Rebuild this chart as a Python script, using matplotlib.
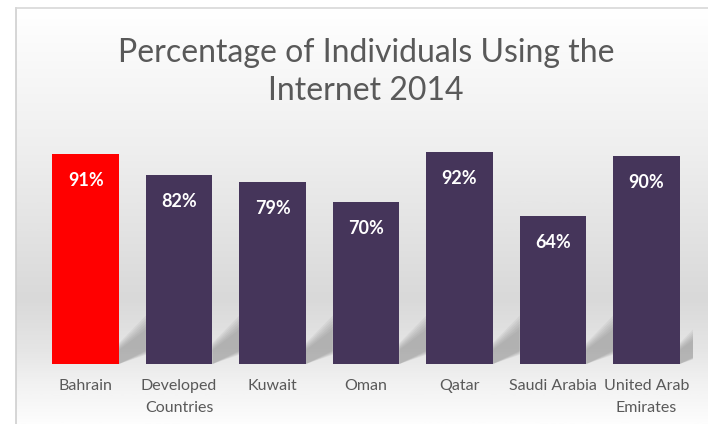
import numpy as np
import matplotlib.pyplot as plt
from matplotlib.colors import LinearSegmentedColormap

# data
countries = ['Bahrain', 'Developed\nCountries', 'Kuwait', 'Oman', 'Qatar',
             'Saudi Arabia', 'United Arab\nEmirates']
values = [91, 82, 79, 70, 92, 64, 90]
colors = ['#ff0000', '#45355a', '#45355a', '#45355a', '#45355a', '#45355a', '#45355a']

plt.rcParams['font.family'] = ['Lato', 'DejaVu Sans']

fig = plt.figure(figsize=(7.08, 4.24), dpi=100)

# background panel with vertical gradient
bg = fig.add_axes([0, 0, 1, 1], zorder=0)
bg.set_xlim(0, 708)
bg.set_ylim(424, 0)
bg.axis('off')
grad_cmap = LinearSegmentedColormap.from_list(
    'bgfade',
    [(0.0, '#ffffff'), (0.35, '#eeeeee'), (0.70, '#d9d9d9'),
     (0.83, '#e6e6e6'), (0.90, '#f1f1f1'), (1.0, '#fdfdfd')])
grad = np.linspace(0, 1, 300).reshape(-1, 1)
bg.imshow(grad, cmap=grad_cmap, aspect='auto', extent=[16, 708, 424, 8])
bg.plot([16, 16], [8, 424], color='#cfcfcf', lw=1.2)
bg.plot([16, 708], [8, 8], color='#d8d8d8', lw=1.2)

ax = fig.add_axes([0.055, 0.1415, 0.924, 0.5445], zorder=1)
ax.patch.set_alpha(0)
x = np.arange(len(countries))
width = 0.71

# soft shadows cast to the right of each bar
for xi in x:
    xr = xi + width / 2
    for k in range(6):
        s = k * 1.2
        ax.fill([xr, xr + 0.29, xr + 0.29, xr],
                [0, 4 + s * 0.3, 21 - s, 9 - s * 0.5],
                color='#808080', alpha=0.1, lw=0, zorder=1)

bars = ax.bar(x, values, width=width, color=colors, zorder=2)
for b, v in zip(bars, values):
    ax.text(b.get_x() + b.get_width() / 2, v - 11.5, f'{v}%',
            ha='center', va='center', color='white', fontsize=13,
            fontweight='bold', zorder=3)

ax.set_xlim(-0.5, len(countries) - 0.5)
ax.set_ylim(0, 100)
ax.set_yticks([])
ax.set_xticks(x)
ax.set_xticklabels(countries, fontsize=11.5, color='#595959', linespacing=1.7)
ax.tick_params(axis='x', length=0, pad=11)
for sp in ax.spines.values():
    sp.set_visible(False)

fig.text(0.517, 0.83, 'Percentage of Individuals Using the\nInternet 2014',
         ha='center', va='center', fontsize=23, color='#595959',
         linespacing=1.32)

fig.savefig('out.png', dpi=100)
